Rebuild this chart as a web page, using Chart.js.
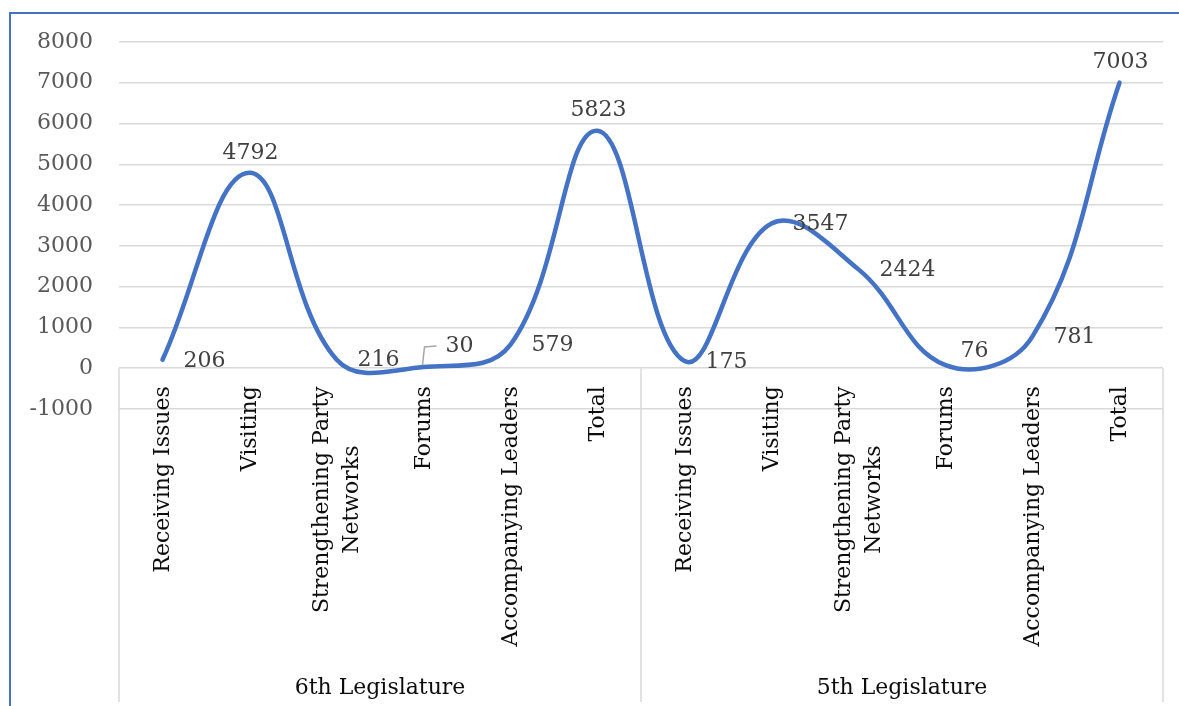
<!DOCTYPE html>
<html>
<head>
<meta charset="utf-8">
<script src="https://cdn.jsdelivr.net/npm/chart.js@4.4.1/dist/chart.umd.min.js"></script>
<style>
  html, body { margin: 0; padding: 0; background: #fff; overflow: hidden; }
</style>
</head>
<body>
<canvas id="chart" width="1179" height="706"></canvas>
<script>
// --- data ---
const categories = [
    'Receiving Issues', 'Visiting', ['Strengthening Party', 'Networks'], 'Forums', 'Accompanying Leaders', 'Total',
    'Receiving Issues', 'Visiting', ['Strengthening Party', 'Networks'], 'Forums', 'Accompanying Leaders', 'Total'
];
const groups = ['6th Legislature', '5th Legislature'];
const groupSizes = [6, 6];
const values = [206, 4792, 216, 30, 579, 5823, 175, 3547, 2424, 76, 781, 7003];
const yTicks = [-1000, 0, 1000, 2000, 3000, 4000, 5000, 6000, 7000, 8000];

// where each data label sits (style only)
const labelPlace = ['right', 'above', 'right', 'leader', 'right', 'above', 'right', 'right', 'right', 'rightUp', 'right', 'above'];

const FONT = "'DejaVu Serif', 'Liberation Serif', serif";
const GRID = '#d9d9d9';

Chart.defaults.font.family = FONT;
Chart.defaults.font.size = 22;

// blue outer frame (only top and left edges are inside the picture)
const frame = {
    id: 'frame',
    beforeDraw(chart) {
        const ctx = chart.ctx;
        ctx.save();
        ctx.fillStyle = '#fff';
        ctx.fillRect(0, 0, chart.width, chart.height);
        ctx.strokeStyle = '#4472c4';
        ctx.lineWidth = 2;
        ctx.beginPath();
        ctx.moveTo(10, chart.height + 5);
        ctx.lineTo(10, 13);
        ctx.lineTo(chart.width + 5, 13);
        ctx.stroke();
        ctx.restore();
    }
};

// data labels next to the points
const valueLabels = {
    id: 'valueLabels',
    afterDatasetsDraw(chart) {
        const ctx = chart.ctx;
        const meta = chart.getDatasetMeta(0);
        ctx.save();
        ctx.font = '22px ' + FONT;
        ctx.fillStyle = '#404040';
        ctx.textBaseline = 'middle';
        meta.data.forEach((pt, i) => {
            const txt = String(values[i]);
            const x = pt.x, y = pt.y;
            const place = labelPlace[i];
            if (place === 'above') {
                ctx.textAlign = 'center';
                ctx.fillText(txt, x + 1, y - 20);
            } else if (place === 'leader') {
                ctx.strokeStyle = '#a6a6a6';
                ctx.lineWidth = 1.5;
                ctx.beginPath();
                ctx.moveTo(x - 1, y - 2);
                ctx.lineTo(x + 1, y - 20);
                ctx.lineTo(x + 13, y - 21);
                ctx.stroke();
                ctx.textAlign = 'left';
                ctx.fillText(txt, x + 22, y - 21);
            } else if (place === 'rightUp') {
                ctx.textAlign = 'left';
                ctx.fillText(txt, x + 15, y - 14);
            } else {
                ctx.textAlign = 'left';
                ctx.fillText(txt, x + 21, y + 1);
            }
        });
        ctx.restore();
    }
};

// rotated category labels, group labels and separators
const groupedAxis = {
    id: 'groupedAxis',
    afterDraw(chart) {
        const ctx = chart.ctx;
        const xs = chart.scales.x;
        const ys = chart.scales.y;
        const band = xs.getPixelForValue(1) - xs.getPixelForValue(0);
        const zeroY = ys.getPixelForValue(0);
        const top = zeroY + 18;
        const lineH = 30;
        ctx.save();

        // category labels
        ctx.font = '22px ' + FONT;
        ctx.fillStyle = '#0d0d0d';
        ctx.textAlign = 'center';
        ctx.textBaseline = 'middle';
        categories.forEach((c, i) => {
            const lines = Array.isArray(c) ? c : [c];
            const len = Math.max(...lines.map(l => ctx.measureText(l).width));
            const cx = xs.getPixelForValue(i);
            lines.forEach((l, k) => {
                ctx.save();
                ctx.translate(cx + (k - (lines.length - 1) / 2) * lineH, top + len / 2);
                ctx.rotate(-Math.PI / 2);
                ctx.fillText(l, 0, 1);
                ctx.restore();
            });
        });

        // separators + group names
        ctx.strokeStyle = GRID;
        ctx.lineWidth = 1.5;
        let start = 0;
        const bounds = [xs.getPixelForValue(0) - band / 2];
        groups.forEach((g, gi) => {
            const end = start + groupSizes[gi];
            const left = xs.getPixelForValue(start) - band / 2;
            const right = xs.getPixelForValue(end - 1) + band / 2;
            bounds.push(right);
            ctx.fillText(g, (left + right) / 2, 688);
            start = end;
        });
        bounds.forEach(bx => {
            ctx.beginPath();
            ctx.moveTo(bx, zeroY);
            ctx.lineTo(bx, 702);
            ctx.stroke();
        });
        ctx.restore();
    }
};

new Chart(document.getElementById('chart'), {
    type: 'line',
    data: {
        labels: categories,
        datasets: [{
            data: values,
            borderColor: '#4472c4',
            borderWidth: 4.5,
            tension: 0.4,
            pointRadius: 0,
            fill: false,
            borderCapStyle: 'round'
        }]
    },
    options: {
        responsive: false,
        animation: false,
        devicePixelRatio: 1,
        layout: { padding: { left: 0, top: 42, right: 16, bottom: 297 } },
        plugins: {
            legend: { display: false },
            tooltip: { enabled: false }
        },
        scales: {
            x: {
                type: 'category',
                offset: true,
                display: false
            },
            y: {
                min: -1000,
                max: 8000,
                afterFit: (s) => { s.width = 119; },
                afterBuildTicks: (s) => { s.ticks = yTicks.map(v => ({ value: v })); },
                border: { display: false },
                grid: { color: GRID, lineWidth: 1.5, drawTicks: false },
                ticks: { color: '#595959', padding: 26, font: { size: 22 }, callback: (v) => String(v) }
            }
        }
    },
    plugins: [frame, valueLabels, groupedAxis]
});
</script>
</body>
</html>
